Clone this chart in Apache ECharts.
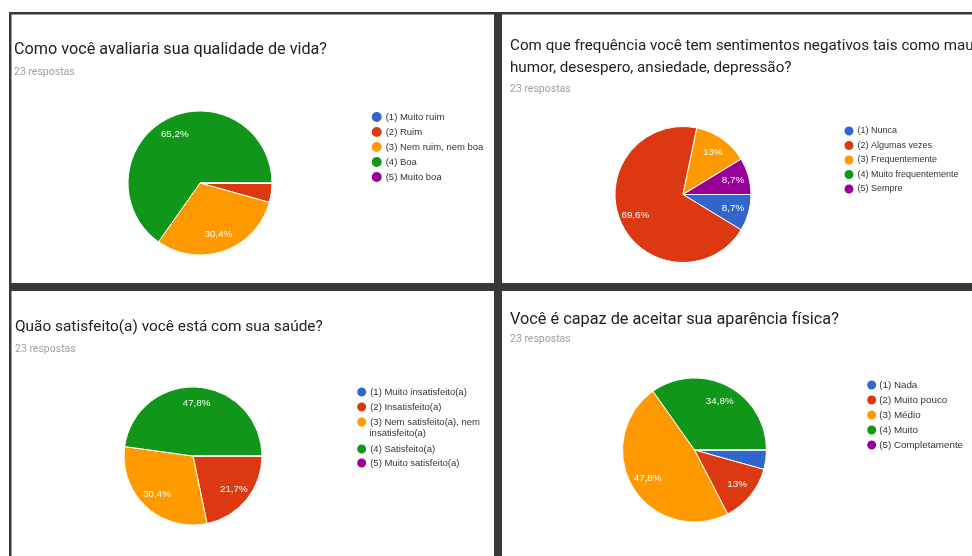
<!DOCTYPE html>
<html><head><meta charset="utf-8">
<script src="https://cdn.jsdelivr.net/npm/echarts@6/dist/echarts.min.js"></script>
<style>html,body{margin:0;padding:0;background:#fff}#c{width:972px;height:556px}</style>
</head><body><div id="c"></div>
<script>
// ---- data ----
const sliceColors = ['#3366cc', '#dc3912', '#ff9900', '#109618', '#990099'];
const responsesText = '23 respostas';

const q1Title = 'Como você avaliaria sua qualidade de vida?';
const q1Categories = ['(1) Muito ruim', '(2) Ruim', '(3) Nem ruim, nem boa', '(4) Boa', '(5) Muito boa'];
const q1Values = [0, 1, 7, 15, 0];

const q2Title = 'Com que frequência você tem sentimentos negativos tais como mau\nhumor, desespero, ansiedade, depressão?';
const q2Categories = ['(1) Nunca', '(2) Algumas vezes', '(3) Frequentemente', '(4) Muito frequentemente', '(5) Sempre'];
const q2Values = [2, 16, 3, 0, 2];

const q3Title = 'Quão satisfeito(a) você está com sua saúde?';
const q3Categories = ['(1) Muito insatisfeito(a)', '(2) Insatisfeito(a)', '(3) Nem satisfeito(a), nem insatisfeito(a)', '(4) Satisfeito(a)', '(5) Muito satisfeito(a)'];
const q3Values = [0, 5, 7, 11, 0];

const q4Title = 'Você é capaz de aceitar sua aparência física?';
const q4Categories = ['(1) Nada', '(2) Muito pouco', '(3) Médio', '(4) Muito', '(5) Completamente'];
const q4Values = [1, 3, 11, 8, 0];

// ---- helpers ----
const LEG_FONT = '"Liberation Sans", Arial, sans-serif';
const TITLE_FONT = 'Roboto, "Noto Sans", sans-serif';

function pctLabel(vals) {
  const total = vals.reduce((a, b) => a + b, 0);
  return function (p) {
    const pct = p.value / total * 100;
    if (pct < 5) return '';
    return (Math.round(pct * 10) / 10).toString().replace('.', ',') + '%';
  };
}

function pies(cats, vals, center, r) {
  const data = cats.map((n, i) => ({ name: n, value: vals[i], itemStyle: { color: sliceColors[i] } }));
  const main = {
    type: 'pie', center: center, radius: r, startAngle: 0, clockwise: true, silent: true,
    data: data, label: { show: false }, labelLine: { show: false },
    itemStyle: { borderColor: '#ffffff', borderWidth: 1 }, emphasis: { disabled: true }
  };
  const labels = {
    type: 'pie', center: center, radius: [r * 0.44, r], startAngle: 0, clockwise: true, silent: true,
    data: cats.map((n, i) => ({ name: n, value: vals[i], itemStyle: { color: 'rgba(0,0,0,0)' } })),
    itemStyle: { borderWidth: 0 }, labelLine: { show: false }, emphasis: { disabled: true },
    label: { show: true, position: 'inside', formatter: pctLabel(vals), color: '#ffffff', fontSize: 9.8, fontFamily: LEG_FONT }
  };
  return [main, labels];
}

function legend(data, left, top, size, gap, fontSize, padL, extra) {
  return Object.assign({
    orient: 'vertical', left: left, top: top, padding: 0, icon: 'circle',
    itemWidth: size, itemHeight: size, itemGap: gap, selectedMode: false, data: data,
    textStyle: { fontSize: fontSize, color: '#333333', fontFamily: LEG_FONT, lineHeight: size, padding: [0, 0, 0, padL] }
  }, extra || {});
}

function title(text, left, top, fontSize) {
  return { text: text, left: left, top: top, padding: 0,
    textStyle: { fontSize: fontSize, fontWeight: 'normal', color: '#202124', fontFamily: TITLE_FONT, lineHeight: 22 } };
}
function sub(left, top) {
  return { text: responsesText, left: left, top: top, padding: 0,
    textStyle: { fontSize: 10.5, fontWeight: 'normal', color: '#9e9e9e', fontFamily: TITLE_FONT, lineHeight: 14 } };
}

const q3Wrap = q3Categories[2].lastIndexOf(' ');

const chart = echarts.init(document.getElementById('c'), null, { renderer: 'canvas' });
chart.setOption({
  animation: false,
  backgroundColor: '#ffffff',
  graphic: [
    { type: 'rect', shape: { x: 9, y: 12, width: 963, height: 544 }, style: { fill: '#383838' }, silent: true },
    { type: 'rect', shape: { x: 11.5, y: 14.5, width: 482.5, height: 268.5 }, style: { fill: '#ffffff' }, silent: true },
    { type: 'rect', shape: { x: 502, y: 14.5, width: 470, height: 268.5 }, style: { fill: '#ffffff' }, silent: true },
    { type: 'rect', shape: { x: 11.5, y: 291, width: 482.5, height: 265 }, style: { fill: '#ffffff' }, silent: true },
    { type: 'rect', shape: { x: 502, y: 291, width: 470, height: 265 }, style: { fill: '#ffffff' }, silent: true },
    { type: 'text', x: 369.5, y: 433, silent: true,
      style: { text: q3Categories[2].slice(q3Wrap + 1), fontSize: 9.5, fill: '#333333', fontFamily: LEG_FONT, verticalAlign: 'middle' } }
  ],
  title: [
    title(q1Title, 14, 38.5, 16.2), sub(14, 65),
    title(q2Title, 510, 35, 15.2), sub(510, 82.5),
    title(q3Title, 15, 316, 15.4), sub(15, 342.5),
    title(q4Title, 510, 308.5, 16.3), sub(510, 332.5)
  ],
  legend: [
    legend(q1Categories, 369.7, 110, 12, 1, 9.5, -2),
    legend(q2Categories, 842.5, 124.5, 11, 1.5, 9, -2),
    legend(q3Categories.slice(0, 3), 355.2, 385.5, 11, 2, 9.5, -2,
      { formatter: n => n === q3Categories[2] ? n.slice(0, q3Wrap) : n }),
    legend(q3Categories.slice(3), 355.2, 442.5, 11, 1, 9.5, -2),
    legend(q4Categories, 865.2, 378.5, 11, 2, 9.8, -3)
  ],
  series: [].concat(
    pies(q1Categories, q1Values, [200, 183], 72),
    pies(q2Categories, q2Values, [683, 194.5], 68),
    pies(q3Categories, q3Values, [193, 456], 69),
    pies(q4Categories, q4Values, [694.5, 450], 72)
  )
});
</script></body></html>
